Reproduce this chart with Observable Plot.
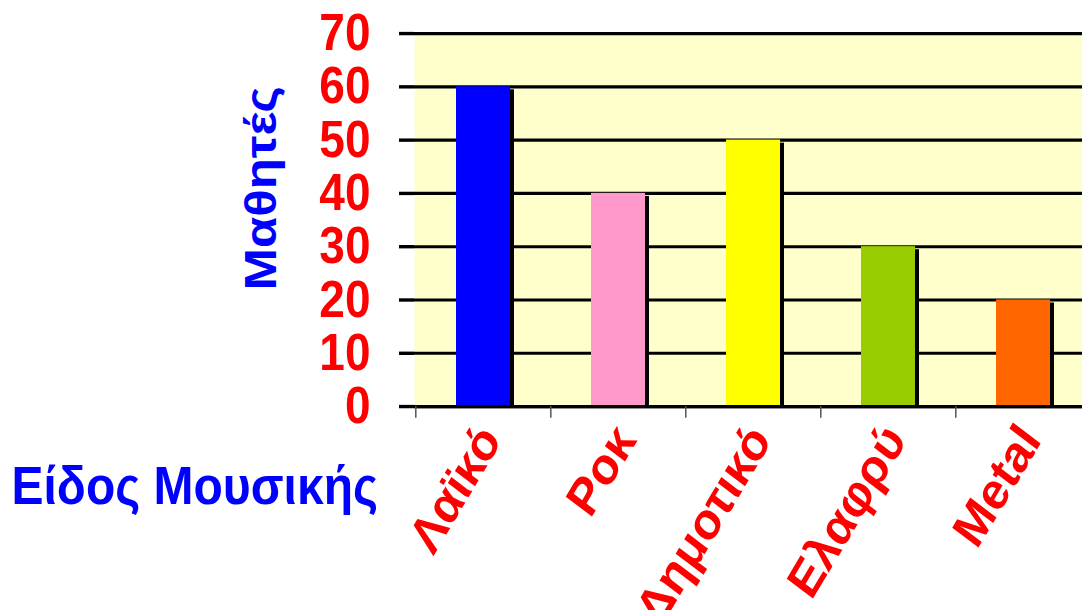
<!DOCTYPE html>
<html>
<head>
<meta charset="utf-8">
<script src="https://cdn.jsdelivr.net/npm/d3@7"></script>
<script src="https://cdn.jsdelivr.net/npm/@observablehq/plot@0.6"></script>
<style>
  html, body { margin: 0; padding: 0; background: #fff; overflow: hidden; }
  #chart svg { display: block; }
</style>
</head>
<body>
<div id="chart"></div>
<script>
const categories = ["Λαϊκό", "Ροκ", "Δημοτικό", "Ελαφρύ", "Metal"];
const values = [60, 40, 50, 30, 20];
const colors = ["#0000FF", "#FF99CC", "#FFFF00", "#99CC00", "#FF6600"];
const yTicks = [0, 10, 20, 30, 40, 50, 60, 70];
const yLabel = "Μαθητές";
const xLabel = "Είδος Μουσικής";

const data = categories.map((c, i) => ({category: c, value: values[i]}));

// The reference picture is stretched vertically; draw at a shorter height and stretch.
const W = 1082, H = 610, H0 = 540;
const S = H / H0;
const mL = 414, mR = -9, mT = 33 / S, mB = H0 - 406 / S;
const halfStep = (W - mL - mR) / categories.length / 2;
const font = "'Liberation Sans', Arial, sans-serif";

const chart = Plot.plot({
  width: W,
  height: H0,
  marginLeft: mL,
  marginRight: mR,
  marginTop: mT,
  marginBottom: mB,
  style: {fontFamily: font, background: "white", overflow: "hidden"},
  x: {domain: categories, paddingInner: 0.6, paddingOuter: 0.3, axis: null},
  y: {domain: [0, 70], axis: null},
  color: {domain: categories, range: colors},
  marks: [
    Plot.frame({fill: "#FFFFCC", stroke: null}),
    Plot.gridY(yTicks, {stroke: "black", strokeOpacity: 1, strokeWidth: 2.8}),
    Plot.barY(data, {x: "category", y: "value", fill: "black", dx: 4, dy: 2.7, insetBottom: 2.7}),
    Plot.barY(data, {x: "category", y: "value", fill: "category"}),
    Plot.ruleY([0], {stroke: "black", strokeWidth: 2.8}),
    Plot.axisY(yTicks, {
      anchor: "left",
      line: true,
      tickSize: 15,
      tickPadding: 29,
      stroke: "black",
      strokeWidth: 3,
      color: "#FF0000",
      fontSize: 46,
      fontWeight: "bold",
      label: null
    }),
    Plot.axisX({
      anchor: "bottom",
      tickSize: 10.5,
      tickFormat: () => "",
      stroke: "#555555",
      strokeWidth: 1.5,
      dx: -halfStep,
      label: null
    }),
    Plot.text(categories, {
      x: d => d,
      text: d => d,
      frameAnchor: "bottom",
      rotate: -56,
      textAnchor: "end",
      lineAnchor: "bottom",
      dx: 19,
      dy: 30,
      fill: "#FF0000",
      fontSize: 46,
      fontWeight: "bold"
    }),
    Plot.text([yLabel], {
      frameAnchor: "top-left",
      text: d => d,
      rotate: -90,
      textAnchor: "middle",
      lineAnchor: "middle",
      dx: -153,
      dy: 137,
      fill: "#0000FF",
      fontSize: 45,
      fontWeight: "bold"
    }),
    Plot.text([xLabel], {
      frameAnchor: "bottom-left",
      text: d => d,
      textAnchor: "start",
      lineAnchor: "bottom",
      dx: -403,
      dy: 86,
      fill: "#0000FF",
      fontSize: 48,
      fontWeight: "bold"
    })
  ]
});

chart.setAttribute("height", H);
chart.setAttribute("preserveAspectRatio", "none");
chart.style.height = H + "px";
chart.style.width = W + "px";
chart.style.maxWidth = "none";

document.getElementById("chart").appendChild(chart);
</script>
</body>
</html>
